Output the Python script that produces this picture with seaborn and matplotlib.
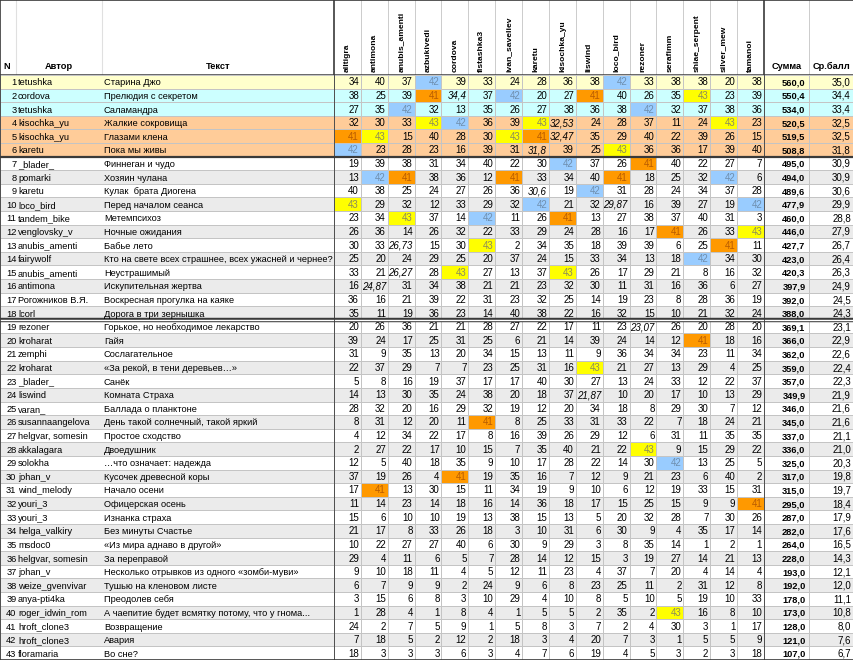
import numpy as np
import matplotlib.pyplot as plt
from matplotlib.colors import ListedColormap
from matplotlib.patches import Rectangle
import seaborn as sns

plt.rcParams['font.family'] = ['Liberation Sans', 'DejaVu Sans']

# DATA
judges = ['alltigra', 'antimona', 'anubis_amenti', 'azbukivedi', 'cordova', 'fistashka3',
          'ivan_saveliev', 'karetu', 'kisochka_yu', 'liswind', 'loco_bird', 'rezoner',
          'serafimm', 'shiae_serpent', 'silver_mew', 'tamanoi']

authors = ['tetushka', 'cordova', 'tetushka', 'kisochka_yu', 'kisochka_yu', 'karetu',
           '_blader_', 'pomarki', 'karetu', 'loco_bird', 'tandem_bike', 'venglovsky_v',
           'anubis_amenti', 'fairywolf', 'anubis_amenti', 'antimona', 'Рогожников В.Я.',
           'lcorl', 'rezoner', 'kroharat', 'zemphi', 'kroharat', '_blader_', 'liswind',
           'varan_', 'susannaangelova', 'helgvar, somesin', 'akkalagara', 'solokha',
           'johan_v', 'wind_melody', 'youri_3', 'youri_3', 'helga_valkiry', 'msdoc0',
           'helgvar, somesin', 'johan_v', 'weize_gvenvivar', 'anya-pti4ka',
           'roger_idwin_rom', 'hroft_clone3', 'hroft_clone3', 'floramaria']

titles = ['Старина Джо', 'Прелюдия с секретом', 'Саламандра', 'Жалкие сокровища',
          'Глазами клена', 'Пока мы живы', 'Финнеган и чудо', 'Хозяин чулана',
          'Кулак  брата Диогена', 'Перед началом сеанса', 'Метемпсихоз', 'Ночные ожидания',
          'Бабье лето', 'Кто на свете всех страшнее, всех ужасней и чернее?', 'Неустрашимый',
          'Искупительная жертва', 'Воскресная прогулка на каяке', 'Дорога в три зернышка',
          'Горькое, но необходимое лекарство', 'Гайя', 'Сослагательное',
          '«За рекой, в тени деревьев…»', 'Санёк', 'Комната Страха', 'Баллада о планктоне',
          'День такой солнечный, такой яркий', 'Простое сходство', 'Двоедушник',
          '…что означает: надежда', 'Кусочек древесной коры', 'Начало осени',
          'Офицерская осень', 'Изнанка страха', 'Без минуты Счастье',
          '«Из мира аднаво в другой»', 'За переправой',
          'Несколько отрывков из одного «зомби-муви»', 'Тушью на кленовом листе',
          'Преодолев себя', 'А чаепитие будет всмятку потому, что у гнома...',
          'Возвращение', 'Авария', 'Во сне?']

scores = [
    [34, 40, 37, 42, 39, 33, 24, 28, 36, 38, 42, 33, 38, 38, 20, 38],
    [38, 25, 39, 41, 34.4, 37, 42, 20, 27, 41, 40, 26, 35, 43, 23, 39],
    [27, 35, 42, 32, 13, 35, 26, 27, 38, 36, 38, 42, 32, 37, 38, 36],
    [32, 30, 33, 43, 42, 36, 39, 43, 32.53, 24, 28, 37, 11, 24, 43, 23],
    [41, 43, 15, 40, 28, 30, 43, 41, 32.47, 35, 29, 40, 22, 39, 26, 15],
    [42, 23, 28, 23, 16, 39, 31, 31.8, 39, 25, 43, 36, 36, 17, 39, 40],
    [19, 39, 38, 31, 34, 40, 22, 30, 42, 37, 26, 41, 40, 22, 27, 7],
    [13, 42, 41, 38, 36, 12, 41, 33, 34, 40, 41, 18, 25, 32, 42, 6],
    [40, 38, 25, 24, 27, 26, 36, 30.6, 19, 42, 31, 28, 24, 34, 37, 28],
    [43, 29, 32, 12, 33, 29, 32, 42, 21, 32, 29.87, 16, 39, 27, 19, 42],
    [23, 34, 43, 37, 14, 42, 11, 26, 41, 13, 27, 38, 37, 40, 31, 3],
    [26, 36, 14, 26, 32, 22, 33, 29, 24, 28, 16, 17, 41, 26, 33, 43],
    [30, 33, 26.73, 15, 30, 43, 2, 34, 35, 18, 39, 39, 6, 25, 41, 11],
    [25, 20, 24, 29, 25, 20, 37, 24, 15, 33, 34, 13, 18, 42, 34, 30],
    [33, 21, 26.27, 28, 43, 27, 13, 37, 43, 26, 17, 29, 21, 8, 16, 32],
    [16, 24.87, 31, 34, 38, 21, 21, 23, 32, 30, 11, 31, 16, 36, 6, 27],
    [36, 16, 21, 39, 22, 31, 23, 32, 25, 14, 19, 23, 8, 28, 36, 19],
    [35, 11, 19, 36, 23, 14, 40, 38, 22, 16, 32, 15, 10, 21, 32, 24],
    [20, 26, 36, 21, 21, 28, 27, 22, 17, 11, 23, 23.07, 26, 20, 28, 20],
    [39, 24, 17, 25, 31, 25, 6, 21, 14, 39, 24, 14, 12, 41, 18, 16],
    [31, 9, 35, 13, 20, 34, 15, 13, 11, 9, 36, 34, 34, 23, 11, 34],
    [22, 37, 29, 7, 7, 23, 25, 31, 16, 43, 21, 27, 13, 29, 4, 25],
    [5, 8, 16, 19, 37, 17, 17, 40, 30, 27, 13, 24, 33, 12, 22, 37],
    [14, 13, 30, 35, 24, 38, 20, 18, 37, 21.87, 10, 20, 17, 10, 13, 29],
    [28, 32, 20, 16, 29, 32, 19, 12, 20, 34, 18, 8, 29, 30, 7, 12],
    [8, 31, 12, 20, 11, 41, 8, 25, 33, 31, 33, 22, 7, 18, 24, 21],
    [4, 12, 34, 22, 17, 8, 16, 39, 26, 29, 12, 6, 31, 11, 35, 35],
    [2, 27, 22, 17, 10, 15, 7, 35, 40, 21, 22, 43, 9, 15, 29, 22],
    [12, 5, 40, 18, 35, 9, 10, 17, 28, 22, 14, 30, 42, 13, 25, 5],
    [37, 19, 26, 4, 41, 19, 35, 16, 7, 12, 9, 21, 23, 6, 40, 2],
    [17, 41, 13, 30, 15, 11, 34, 19, 9, 10, 6, 12, 19, 33, 15, 31],
    [11, 14, 23, 14, 18, 16, 14, 36, 18, 17, 15, 25, 15, 9, 9, 41],
    [15, 6, 10, 10, 19, 13, 38, 15, 13, 5, 20, 32, 28, 7, 30, 26],
    [21, 17, 8, 33, 26, 18, 3, 10, 31, 6, 30, 9, 4, 35, 17, 14],
    [10, 22, 27, 27, 40, 6, 30, 9, 29, 3, 8, 35, 14, 1, 2, 1],
    [29, 4, 11, 6, 5, 7, 28, 14, 12, 15, 3, 19, 27, 14, 21, 13],
    [9, 10, 18, 11, 4, 5, 12, 11, 23, 4, 37, 7, 20, 4, 14, 4],
    [6, 7, 9, 9, 2, 24, 9, 6, 8, 23, 25, 11, 2, 31, 12, 8],
    [3, 15, 6, 8, 3, 10, 29, 4, 10, 8, 5, 10, 5, 19, 10, 33],
    [1, 28, 4, 1, 8, 4, 1, 5, 5, 2, 35, 2, 43, 16, 8, 10],
    [24, 2, 7, 5, 9, 1, 5, 8, 3, 7, 2, 4, 30, 3, 1, 17],
    [7, 18, 5, 2, 12, 2, 18, 3, 4, 20, 7, 3, 1, 5, 5, 9],
    [18, 3, 3, 3, 6, 3, 4, 7, 6, 19, 4, 5, 3, 2, 3, 18],
]

totals = [560.0, 550.4, 534.0, 520.5, 519.5, 508.8, 495.0, 494.0, 489.6, 477.9, 460.0,
          446.0, 427.7, 423.0, 420.3, 397.9, 392.0, 388.0, 369.1, 366.0, 362.0, 359.0,
          357.0, 349.9, 346.0, 345.0, 337.0, 336.0, 325.0, 317.0, 315.0, 295.0, 287.0,
          282.0, 264.0, 228.0, 193.0, 192.0, 178.0, 173.0, 128.0, 121.0, 107.0]

averages = [35.0, 34.4, 33.4, 32.5, 32.5, 31.8, 30.9, 30.9, 30.6, 29.9, 28.8, 27.9, 26.7,
            26.4, 26.3, 24.9, 24.5, 24.3, 23.1, 22.9, 22.6, 22.4, 22.3, 21.9, 21.6, 21.6,
            21.1, 21.0, 20.3, 19.8, 19.7, 18.4, 17.9, 17.6, 16.5, 14.3, 12.1, 12.0, 11.1,
            10.8, 8.0, 7.6, 6.7]

# prize group of the leading rows (1 = first place, 2 = second, 3 = third)
prize = [1, 2, 2, 3, 3, 3]
# cut lines after these places
cuts = [6, 18]

# STYLE
# codes: 0 white, 1 grey stripe, 2 first, 3 second, 4 third, 5 mark 42, 6 mark 41, 7 mark 43
palette = ['#FFFFFF', '#EBEBEB', '#FFFFCC', '#CCFFFF', '#FFCC99', '#99CCFF', '#FF9900', '#FFFF00']
txt_col = {5: '#6F8FAF', 6: '#B85C00', 7: '#8C8C5A'}
mark_code = {43: 7, 42: 5, 41: 6}
cmap = ListedColormap(palette)
grid = '#C4C4C4'
dark = '#3A3A3A'

n = len(authors)
row_code = np.array([prize[i] + 1 if i < len(prize) else (1 if (i + 1) % 2 == 0 else 0)
                     for i in range(n)])
sc = np.array(scores, dtype=float)
cell_code = np.tile(row_code[:, None], (1, len(judges)))
for v, c in mark_code.items():
    cell_code[sc == v] = c


def fmt(v):
    if float(v).is_integer():
        return str(int(v))
    return f'{v:.2f}'.rstrip('0').replace('.', ',')


W, H, HEAD = 854, 660, 75
x_text, x_judge, x_sum, x_avg = 102, 334, 764, 809
fs = 6.7
base = 0.76  # text baseline inside a row

fig = plt.figure(figsize=(W / 100, H / 100), dpi=100)
body_h = (H - HEAD) / H


def add_body(x0, x1):
    return fig.add_axes([x0 / W, 0, (x1 - x0) / W, body_h])


# left block: N, author, text
ax_l = add_body(0, x_judge)
sns.heatmap(row_code[:, None], cmap=cmap, vmin=-0.5, vmax=len(palette) - 0.5, cbar=False,
            linewidths=0.5, linecolor=grid, xticklabels=False, yticklabels=False, ax=ax_l)
for i in range(n):
    y = i + base
    ax_l.text(16.5 / x_judge, y, str(i + 1), ha='right', va='baseline', fontsize=fs)
    ax_l.text(18 / x_judge, y, authors[i], ha='left', va='baseline', fontsize=fs,
              clip_on=True)
    ax_l.text((x_text + 2) / x_judge, y, titles[i], ha='left', va='baseline', fontsize=fs,
              clip_on=True)

# judge scores
ax_j = add_body(x_judge, x_sum)
sns.heatmap(cell_code, cmap=cmap, vmin=-0.5, vmax=len(palette) - 0.5, cbar=False,
            linewidths=0.5, linecolor=grid, xticklabels=False, yticklabels=False, ax=ax_j)
for i in range(n):
    for j in range(len(judges)):
        v = sc[i, j]
        ax_j.text(j + 0.93, i + base, fmt(v), ha='right', va='baseline', fontsize=fs + 0.3,
                  color=txt_col.get(cell_code[i, j], 'black'),
                  style='normal' if float(v).is_integer() else 'italic')

# totals and averages
ax_s = add_body(x_sum, W)
sns.heatmap(np.tile(row_code[:, None], (1, 2)), cmap=cmap, vmin=-0.5,
            vmax=len(palette) - 0.5, cbar=False, linewidths=0.5, linecolor=grid,
            xticklabels=False, yticklabels=False, ax=ax_s)
for i in range(n):
    ax_s.text(0.92, i + base, f'{totals[i]:.1f}'.replace('.', ','), ha='right',
              va='baseline', fontsize=fs, fontweight='bold')
    ax_s.text(1.93, i + base, f'{averages[i]:.1f}'.replace('.', ','), ha='right',
              va='baseline', fontsize=fs + 0.3)

# cut lines
for ax in (ax_l, ax_j, ax_s):
    ax.axhline(cuts[0], color=dark, lw=1.6)
    ax.axhline(cuts[1], color=dark, lw=3.2)
    ax.axhline(cuts[1], color='white', lw=1.0)
ax_j.axvline(0, color=dark, lw=1.2)
ax_s.axvline(0, color=dark, lw=1.2)

# header
ax_h = fig.add_axes([0, body_h, 1, HEAD / H])
ax_h.set_xlim(0, W)
ax_h.set_ylim(HEAD, 0)
ax_h.axis('off')
for x in (16, x_text):
    ax_h.plot([x, x], [0, HEAD], color='#E0E0E0', lw=0.8)
cw = (x_sum - x_judge) / len(judges)
for j in range(1, len(judges)):
    ax_h.plot([x_judge + j * cw] * 2, [0, HEAD], color=grid, lw=0.6)
ax_h.plot([x_avg, x_avg], [0, HEAD], color=grid, lw=0.6)
for x in (x_judge, x_sum):
    ax_h.plot([x, x], [0, HEAD], color=dark, lw=1.2)
ax_h.plot([0, W], [HEAD - 0.5, HEAD - 0.5], color=dark, lw=1.8)
ax_h.text(7, 69, 'N', ha='center', va='baseline', fontsize=fs, fontweight='bold')
ax_h.text(59, 69, 'Автор', ha='center', va='baseline', fontsize=fs, fontweight='bold')
ax_h.text(218, 69, 'Текст', ha='center', va='baseline', fontsize=fs, fontweight='bold')
ax_h.text((x_sum + x_avg) / 2, 69, 'Сумма', ha='center', va='baseline', fontsize=fs,
          fontweight='bold')
ax_h.text((x_avg + W) / 2, 69, 'Ср.балл', ha='center', va='baseline', fontsize=fs,
          fontweight='bold')
for j, name in enumerate(judges):
    ax_h.text(x_judge + (j + 0.5) * cw, 72, name, rotation=90, ha='center', va='bottom',
              fontsize=6.1, fontweight='bold')

fig.add_artist(Rectangle((0.0005, 0.0005), 0.999, 0.999, transform=fig.transFigure,
                         fill=False, edgecolor=dark, lw=1.2))

fig.savefig('out.png', dpi=100)
